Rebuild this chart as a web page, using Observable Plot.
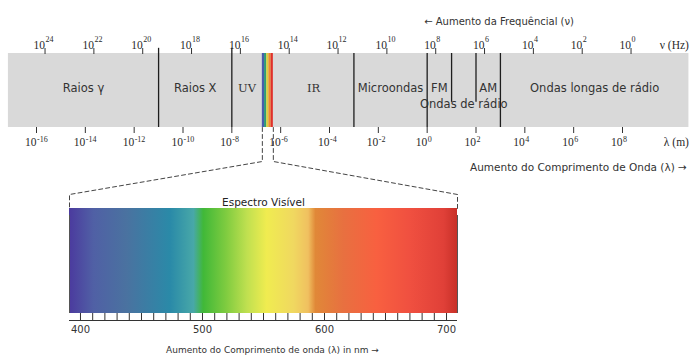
<!DOCTYPE html>
<html><head><meta charset="utf-8">
<script src="https://cdn.jsdelivr.net/npm/d3@7"></script>
<script src="https://cdn.jsdelivr.net/npm/@observablehq/plot@0.6"></script>
<style>
html,body{margin:0;padding:0;background:#fff;}
#chart{position:relative;width:692px;height:360px;overflow:hidden;background:#fff;}
#chart svg{position:absolute;left:0;}
</style></head><body><div id="chart"></div>
<script>
// ---------- data (log10 of wavelength in metres, as drawn) ----------
const bandExtent = [-17.15, 10.72];
const wavelengthExp = [-16, -14, -12, -10, -8, -6, -4, -2, 0, 2, 4, 6, 8];
const frequencyExp = [24, 22, 20, 18, 16, 14, 12, 10, 8, 6, 4, 2, 0];
const logWavelengthAt1Hz = 8.35; // where the ν = 10^0 Hz tick sits on the λ axis
const regionNames = ["Raios γ", "Raios X", "UV", "IR", "Microondas", "FM", "AM", "Ondas de rádio", "Ondas longas de rádio"];
const regionFrom  = [-17.15, -11, -8, -6.30, -3, 0, 2, 0, 3];
const regionTo    = [-11, -8, -6.75, -3, 0, 1, 3, 3, 10.72];
const regionLine  = [0, 0, 0, 0, 0, 0, 0, 1, 0];
const serifRegions = ["UV", "IR"];
const boundaryAt   = [-11, -8, -3, 0, 1, 2, 3];
const boundaryKind = ["above", "above", "full", "full", "upper", "upper", "full"];
const visibleStripe = [-6.75, -6.30];
const stripeColors = ["#4a5cab", "#2f9a78", "#d8d040", "#f0882e", "#e0302a"];

// visible spectrum (nm)
const nmExtent = [391, 709];
const nmLabels = [400, 500, 600, 700];
const nmTickStep = 10;
const gradientNm = [391, 411, 438, 474, 493, 501, 520, 537, 553, 575, 587, 593, 616, 643, 670, 698, 709];
const gradientColors = ["#4b3a9e", "#5060a5", "#4a72a0", "#2a8aa8", "#48a8a8", "#40b838", "#80cc40", "#c0e050",
  "#f0ec50", "#f0d860", "#f0c060", "#e08838", "#e87040", "#f86040", "#f05040", "#e04038", "#c83028"];

// ---------- tables built from the arrays ----------
const regions = regionNames.map((name, i) => ({name, from: regionFrom[i], to: regionTo[i], line: regionLine[i]}));
const boundaries = boundaryAt.map((at, i) => ({at, kind: boundaryKind[i]}));
const stripeW = (visibleStripe[1] - visibleStripe[0]) / stripeColors.length;
const stripes = stripeColors.map((c, i) => ({c, x1: visibleStripe[0] + i * stripeW, x2: visibleStripe[0] + (i + 1) * stripeW}));
const freqPos = k => logWavelengthAt1Hz - k;
const sup = k => String(k);

const W = 692;
const chart = document.getElementById("chart");
const sans = "DejaVu Sans";
const serif = "Liberation Serif, DejaVu Serif";
const ink = "#2a2a2a";

// ---------- top: full electromagnetic spectrum ----------
const topPlot = Plot.plot({
  width: W, height: 185,
  marginTop: 53, marginBottom: 58, marginLeft: 36, marginRight: 70,
  x: {domain: [-16, 8], label: null},
  y: {domain: [0, 1], axis: null},
  color: {type: "identity"},
  style: {background: "transparent", fontFamily: sans, color: ink, overflow: "visible"},
  marks: [
    Plot.rect([0], {x1: bandExtent[0], x2: bandExtent[1], y1: 0, y2: 1, fill: "#d9d9d9"}),
    Plot.rect(stripes, {x1: "x1", x2: "x2", y1: 0, y2: 1, fill: "c"}),
    Plot.ruleX(boundaries, {x: "at",
      y1: d => d.kind === "upper" ? 0.34 : 0,
      y2: d => d.kind === "above" ? 1.07 : 1,
      stroke: "#1e1e1e", strokeWidth: 1.3}),
    // frequency axis (top)
    Plot.axisX(frequencyExp.map(freqPos), {anchor: "top", tickSize: 6, fill: "none", stroke: "#333"}),
    Plot.text(frequencyExp, {x: freqPos, text: () => "10", frameAnchor: "top", dy: -13, textAnchor: "end",
      fontFamily: serif, fontSize: 11.5, fill: ink}),
    Plot.text(frequencyExp, {x: freqPos, text: sup, frameAnchor: "top", dy: -17, dx: 0.5, textAnchor: "start",
      fontFamily: serif, fontSize: 8, fill: ink}),
    Plot.text(["ν (Hz)"], {x: bandExtent[1], text: d => d, frameAnchor: "top", dy: -13, textAnchor: "end",
      fontFamily: serif, fontSize: 11.5, fill: ink}),
    Plot.text(["← Aumento da Frequêncial (ν)"], {x: 0, text: d => d, frameAnchor: "top", dy: -36, dx: -3,
      textAnchor: "start", fontSize: 10, fill: "#333"}),
    // wavelength axis (bottom)
    Plot.axisX(wavelengthExp, {anchor: "bottom", tickSize: 6, fill: "none", stroke: "#333"}),
    Plot.text(wavelengthExp, {x: d => d, text: () => "10", frameAnchor: "bottom", dy: 18, textAnchor: "end",
      fontFamily: serif, fontSize: 11.5, fill: ink}),
    Plot.text(wavelengthExp, {x: d => d, text: sup, frameAnchor: "bottom", dy: 14, dx: 0.5, textAnchor: "start",
      fontFamily: serif, fontSize: 8, fill: ink}),
    Plot.text(["λ (m)"], {x: bandExtent[1], text: d => d, frameAnchor: "bottom", dy: 18, textAnchor: "end",
      fontFamily: serif, fontSize: 11.5, fill: ink}),
    Plot.text(["Aumento do Comprimento de Onda (λ) →"], {x: bandExtent[1], text: d => d, frameAnchor: "bottom",
      dy: 43, dx: -2, textAnchor: "end", fontSize: 10.5, fill: "#333"}),
    // region names
    Plot.text(regions.filter(d => d.line === 0 && !serifRegions.includes(d.name)),
      {x: d => (d.from + d.to) / 2, text: "name", frameAnchor: "middle", dy: -2, fontSize: 11.5, fill: "#333"}),
    Plot.text(regions.filter(d => d.line === 0 && serifRegions.includes(d.name)),
      {x: d => (d.from + d.to) / 2, text: "name", frameAnchor: "middle", dy: -2, fontSize: 11.5,
       fontFamily: "DejaVu Serif", fill: "#333"}),
    Plot.text(regions.filter(d => d.line === 1),
      {x: d => (d.from + d.to) / 2, text: "name", frameAnchor: "middle", dy: 14, fontSize: 11.5, fill: "#333"})
  ]
});
topPlot.style.top = "0px";
chart.appendChild(topPlot);

// ---------- bottom: visible spectrum ----------
const bTop = 125, bH = 235, bMl = 69, bMr = 235, bMt = 83, bMb = 47;
const bx = Plot.scale({x: {domain: nmExtent, range: [bMl, W - bMr]}});
const by = Plot.scale({y: {domain: [0, 1], range: [bH - bMb, bMt]}});
const tx = topPlot.scale("x");
const funnelPx = [127, 161, 194]; // page rows of the dashed funnel: stripe foot, knee, corner
const lvl = px => by.invert(px - bTop);
const funnel = [];
[[visibleStripe[0], nmExtent[0], "L"], [visibleStripe[1], nmExtent[1], "R"]].forEach(([lw, nm, side]) => {
  const xs = bx.invert(tx.apply(lw));
  funnel.push({side, x: xs, y: lvl(funnelPx[0])}, {side, x: xs, y: lvl(funnelPx[1])},
              {side, x: nm, y: lvl(funnelPx[2])}, {side, x: nm, y: 1});
});

const gradientDefs = (index, scales) => {
  const ns = "http://www.w3.org/2000/svg";
  const defs = document.createElementNS(ns, "defs");
  const lg = document.createElementNS(ns, "linearGradient");
  const x1 = scales.x(nmExtent[0]), x2 = scales.x(nmExtent[1]);
  lg.setAttribute("id", "visgrad");
  lg.setAttribute("gradientUnits", "userSpaceOnUse");
  lg.setAttribute("x1", x1); lg.setAttribute("x2", x2);
  lg.setAttribute("y1", 0); lg.setAttribute("y2", 0);
  gradientNm.forEach((nm, i) => {
    const s = document.createElementNS(ns, "stop");
    s.setAttribute("offset", (scales.x(nm) - x1) / (x2 - x1));
    s.setAttribute("stop-color", gradientColors[i]);
    lg.appendChild(s);
  });
  defs.appendChild(lg);
  return defs;
};

const bottomPlot = Plot.plot({
  width: W, height: bH,
  marginTop: bMt, marginBottom: bMb, marginLeft: bMl, marginRight: bMr,
  x: {domain: nmExtent, label: null},
  y: {domain: [0, 1], axis: null},
  style: {background: "transparent", fontFamily: sans, color: ink, overflow: "visible"},
  marks: [
    gradientDefs,
    Plot.line(funnel, {x: "x", y: "y", z: "side", stroke: "#444", strokeWidth: 1, strokeDasharray: "4,3"}),
    Plot.rect([0], {x1: nmExtent[0], x2: nmExtent[1], y1: 0, y2: 1, fill: "url(#visgrad)"}),
    Plot.axisX(d3.range(nmLabels[0], nmLabels[nmLabels.length - 1] + 1, nmTickStep),
      {anchor: "bottom", tickSize: 7, fill: "none", stroke: "#333"}),
    Plot.ruleY([0], {dy: 7, stroke: "#333"}),
    Plot.ruleX(nmExtent, {y1: 0, y2: 1, insetBottom: -7, stroke: "#555"}),
    Plot.text(nmLabels, {x: d => d, text: d => String(d), frameAnchor: "bottom", dy: 19, fontSize: 10, fill: "#333"}),
    Plot.text(["Espectro Visível"], {text: d => d, frameAnchor: "top", dy: -10, fontSize: 10.5, fill: "#222"}),
    Plot.text(["Aumento do Comprimento de onda (λ) in nm →"], {text: d => d, frameAnchor: "bottom",
      dy: 39, dx: 9, fontSize: 9, fill: "#333"})
  ]
});
bottomPlot.style.top = bTop + "px";
chart.appendChild(bottomPlot);
</script>
</body></html>
